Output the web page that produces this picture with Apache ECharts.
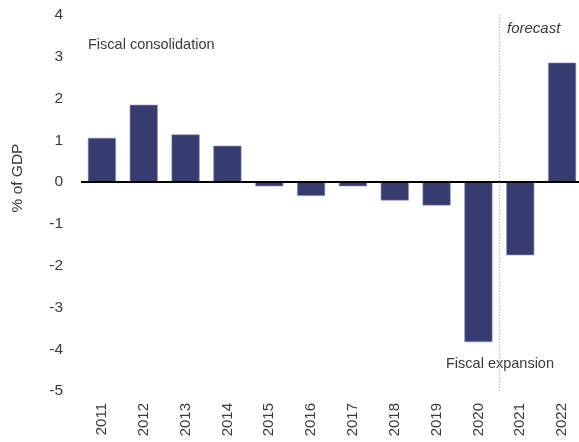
<!DOCTYPE html>
<html><head><meta charset="utf-8">
<script src="https://cdn.jsdelivr.net/npm/echarts@6/dist/echarts.min.js"></script>
<style>html,body{margin:0;padding:0;background:#fff;overflow:hidden}#c{width:579px;height:442px}</style>
</head><body><div id="c"></div>
<script>
const categories = ['2011','2012','2013','2014','2015','2016','2017','2018','2019','2020','2021','2022'];
const values = [1.06, 1.85, 1.14, 0.87, -0.1, -0.33, -0.1, -0.44, -0.56, -3.83, -1.75, 2.86];
const yTicks = { min: -5, max: 4, interval: 1 };
const forecastBoundary = 9.5;
const FONT = 'Liberation Sans';
const TXT = '#3a3a3a';
const chart = echarts.init(document.getElementById('c'));
chart.setOption({
  animation: false,
  grid: { left: 81, width: 502, top: 15, bottom: 51, outerBoundsMode: 'none', containLabel: false },
  xAxis: [{
    type: 'category', data: categories, position: 'bottom',
    axisLine: { show: false }, axisTick: { show: false },
    axisLabel: { rotate: 90, margin: 12, color: TXT, fontFamily: FONT, fontSize: 15 }
  }, {
    type: 'value', min: -0.5, max: categories.length - 0.5, show: false
  }],
  yAxis: {
    type: 'value', min: yTicks.min, max: yTicks.max, interval: yTicks.interval,
    axisLine: { show: false }, axisTick: { show: false }, splitLine: { show: false },
    axisLabel: { margin: 18, color: TXT, fontFamily: FONT, fontSize: 15.5 }
  },
  series: [{
    type: 'bar', data: values, barCategoryGap: '33%',
    itemStyle: { color: '#363b70', borderColor: '#8a8fb8', borderWidth: 0.6 },
    markLine: {
      silent: true, symbol: 'none', label: { show: false },
      data: [
        { yAxis: 0, lineStyle: { color: '#000', width: 2, type: 'solid' } }
      ]
    }
  }, {
    type: 'line', xAxisIndex: 1, data: [],
    markLine: {
      silent: true, symbol: 'none', label: { show: false },
      data: [
        { xAxis: forecastBoundary, lineStyle: { color: '#b8b8b8', width: 1, type: [1.5, 1.5] } }
      ]
    }
  }],
  graphic: [
    { type: 'text', left: 88, top: 37, style: { text: 'Fiscal consolidation', fill: TXT, font: '14.5px "' + FONT + '"' } },
    { type: 'text', left: 507, top: 21, style: { text: 'forecast', fill: TXT, font: 'italic 15px "' + FONT + '"' } },
    { type: 'text', left: 446, top: 356, style: { text: 'Fiscal expansion', fill: TXT, font: '14.5px "' + FONT + '"' } },
    { type: 'text', x: 18, y: 178, rotation: Math.PI / 2,
      style: { text: '% of GDP', fill: TXT, font: '15.5px "' + FONT + '"', align: 'center', verticalAlign: 'middle' } }
  ]
});
</script></body></html>
